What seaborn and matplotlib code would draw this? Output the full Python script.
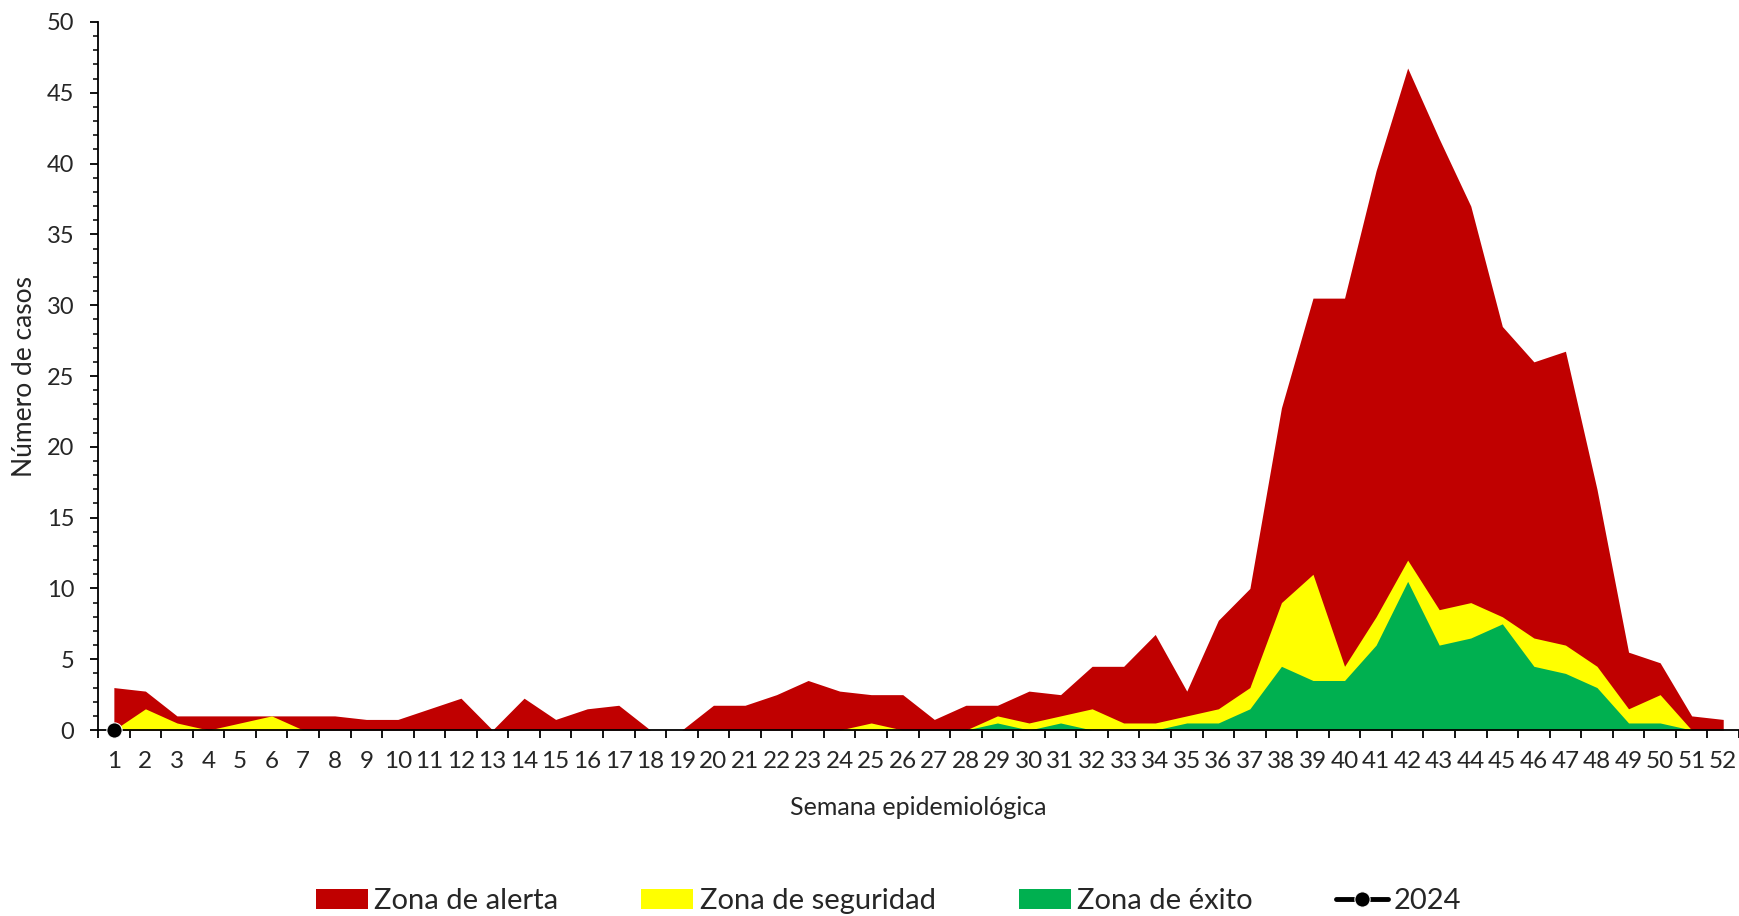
import numpy as np
import matplotlib
matplotlib.use("Agg")
import matplotlib.pyplot as plt
import seaborn as sns

# datos por semana epidemiologica
semanas = list(range(1, 53))

zona_alerta = [3, 2.75, 1, 1, 1, 1, 1, 1, 0.75, 0.75,
               1.5, 2.25, 0, 2.25, 0.75, 1.5, 1.75, 0, 0, 1.75,
               1.75, 2.5, 3.5, 2.75, 2.5, 2.5, 0.75, 1.75, 1.75, 2.75,
               2.5, 4.5, 4.5, 6.75, 2.75, 7.75, 10, 22.75, 30.5, 30.5,
               39.5, 46.75, 41.75, 37, 28.5, 26, 26.75, 17, 5.5, 4.75,
               1, 0.75]

zona_seguridad = [0, 1.5, 0.5, 0, 0.5, 1, 0, 0, 0, 0,
                  0, 0, 0, 0, 0, 0, 0, 0, 0, 0,
                  0, 0, 0, 0, 0.5, 0, 0, 0, 1, 0.5,
                  1, 1.5, 0.5, 0.5, 1, 1.5, 3, 9, 11, 4.5,
                  8, 12, 8.5, 9, 8, 6.5, 6, 4.5, 1.5, 2.5,
                  0, 0]

zona_exito = [0, 0, 0, 0, 0, 0, 0, 0, 0, 0,
              0, 0, 0, 0, 0, 0, 0, 0, 0, 0,
              0, 0, 0, 0, 0, 0, 0, 0, 0.5, 0,
              0.5, 0, 0, 0, 0.5, 0.5, 1.5, 4.5, 3.5, 3.5,
              6, 10.5, 6, 6.5, 7.5, 4.5, 4, 3, 0.5, 0.5,
              0, 0]

semana_2024 = [1]
casos_2024 = [0]

etiquetas_x = [str(s) for s in semanas]

# estilo
sns.set_style("ticks")
plt.rcParams['font.family'] = ['Lato', 'DejaVu Sans']

fig = plt.figure(figsize=(17.39, 9.16), dpi=100)
ax = fig.add_axes([0.0564, 0.203, 0.9436, 0.773])

# areas superpuestas
ax.fill_between(semanas, 0, zona_alerta, color="#C00000", linewidth=0, label="Zona de alerta")
ax.fill_between(semanas, 0, zona_seguridad, color="#FFFF00", linewidth=0, label="Zona de seguridad")
ax.fill_between(semanas, 0, zona_exito, color="#00B050", linewidth=0, label="Zona de éxito")

# serie 2024
sns.lineplot(x=semana_2024, y=casos_2024, ax=ax, color="black", marker="o",
             markersize=11, linewidth=3.5, label="2024", clip_on=False, zorder=5)

ax.set_xlim(0.5, 52.5)
ax.set_ylim(0, 50)

# eje x: etiquetas en el centro, marcas entre categorias
ax.set_xticks(semanas)
ax.set_xticklabels(etiquetas_x)
ax.set_xticks(np.arange(0.5, 53, 1), minor=True)
ax.tick_params(axis="x", which="major", length=0, pad=15, labelsize=17.5)
ax.tick_params(axis="x", which="minor", length=6, width=1.3, direction="out", color="black")

# eje y
ax.set_yticks(range(0, 51, 5))
ax.set_yticks(range(0, 51, 1), minor=True)
ax.tick_params(axis="y", which="major", length=6, width=1.3, pad=11, labelsize=17, color="black")
ax.tick_params(axis="y", which="minor", length=3.5, width=1.1, color="black")

sns.despine(ax=ax)
for s in ["left", "bottom"]:
    ax.spines[s].set_color("black")
    ax.spines[s].set_linewidth(1.3)

ax.set_xlabel("Semana epidemiológica", fontsize=18)
ax.set_ylabel("Número de casos", fontsize=19)
ax.xaxis.set_label_coords(0.5, -0.093)
ax.yaxis.set_label_coords(-0.037, 0.5)

# leyenda abajo
handles, labels = ax.get_legend_handles_labels()
if ax.get_legend() is not None:
    ax.get_legend().remove()
fig.legend(handles, labels, loc="center", bbox_to_anchor=(0.511, 0.016), ncol=4,
           frameon=False, fontsize=21, handlelength=1.78, handletextpad=0.22,
           columnspacing=2.85)

fig.savefig("out.png", dpi=100)
